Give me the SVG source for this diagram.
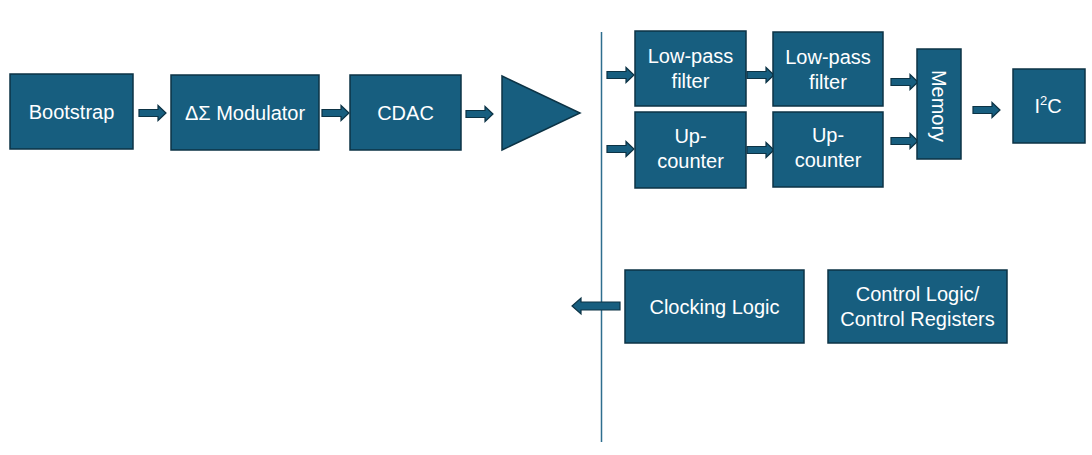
<svg xmlns="http://www.w3.org/2000/svg" xmlns:xlink="http://www.w3.org/1999/xlink" width="1092" height="455" viewBox="0 0 1092 455">
<style>
.box{fill:#175e7f;stroke:#0c3345;stroke-width:1.5}
.arr{fill:#175e7f;stroke:#0c3345;stroke-width:1.2;stroke-linejoin:miter}
.t{font-family:"Liberation Sans",Arial,sans-serif;font-size:20px;fill:#ffffff;text-anchor:middle}
.div{stroke:#2e6e8e;stroke-width:1.5;fill:none}
</style>
<defs>
<path id="ra" class="arr" d="M0,-3.5 H19 V-7.5 L27,0 L19,7.5 V3.5 H0 Z"/>
</defs>
<rect width="1092" height="455" fill="#ffffff"/>
<g id="connectors">
<line class="div" x1="601.5" y1="32" x2="601.5" y2="442"/>
<use xlink:href="#ra" transform="translate(139,113)"/>
<use xlink:href="#ra" transform="translate(322,113)"/>
<use xlink:href="#ra" transform="translate(466,114)"/>
<use xlink:href="#ra" transform="translate(607,75)"/>
<use xlink:href="#ra" transform="translate(607,149)"/>
<use xlink:href="#ra" transform="translate(747,75)"/>
<use xlink:href="#ra" transform="translate(747,150)"/>
<use xlink:href="#ra" transform="translate(891,82)"/>
<use xlink:href="#ra" transform="translate(891,141)"/>
<use xlink:href="#ra" transform="translate(973,110)"/>
<path class="arr" d="M620,302 H581 V298 L572,306 L581,314 V310 H620 Z"/>
</g>
<g id="bootstrap">
<rect class="box" x="10" y="74" width="123" height="75"/>
<text class="t" x="71.5" y="119">Bootstrap</text>
</g>
<g id="modulator">
<rect class="box" x="171" y="75" width="148" height="75"/>
<text class="t" x="245" y="120">ΔΣ Modulator</text>
</g>
<g id="cdac">
<rect class="box" x="350" y="75" width="111" height="75"/>
<text class="t" x="405.5" y="120">CDAC</text>
</g>
<g id="amplifier">
<polygon class="box" points="502,76 580,113 502,150"/>
</g>
<g id="lpf1">
<rect class="box" x="635" y="31" width="111" height="75"/>
<text class="t" x="690.5" y="63">Low-pass</text>
<text class="t" x="690.5" y="88">filter</text>
</g>
<g id="lpf2">
<rect class="box" x="773" y="32" width="110" height="74"/>
<text class="t" x="828" y="64">Low-pass</text>
<text class="t" x="828" y="89">filter</text>
</g>
<g id="upcounter1">
<rect class="box" x="635" y="112" width="111" height="76"/>
<text class="t" x="690.5" y="143">Up-</text>
<text class="t" x="690.5" y="168">counter</text>
</g>
<g id="upcounter2">
<rect class="box" x="773" y="112" width="110" height="75"/>
<text class="t" x="828" y="142">Up-</text>
<text class="t" x="828" y="167">counter</text>
</g>
<g id="memory">
<rect class="box" x="917" y="49" width="44" height="110"/>
<text class="t" transform="translate(939,106) rotate(90)" x="0" y="7">Memory</text>
</g>
<g id="i2c">
<rect class="box" x="1013" y="69" width="72" height="74"/>
<text class="t" x="1048" y="113">I<tspan font-size="13" dy="-8">2</tspan><tspan dy="8">C</tspan></text>
</g>
<g id="clocking">
<rect class="box" x="625" y="270" width="179" height="73"/>
<text class="t" x="714.5" y="314">Clocking Logic</text>
</g>
<g id="control">
<rect class="box" x="828" y="270" width="179" height="73"/>
<text class="t" x="917.5" y="301">Control Logic/</text>
<text class="t" x="917.5" y="326">Control Registers</text>
</g>
</svg>
